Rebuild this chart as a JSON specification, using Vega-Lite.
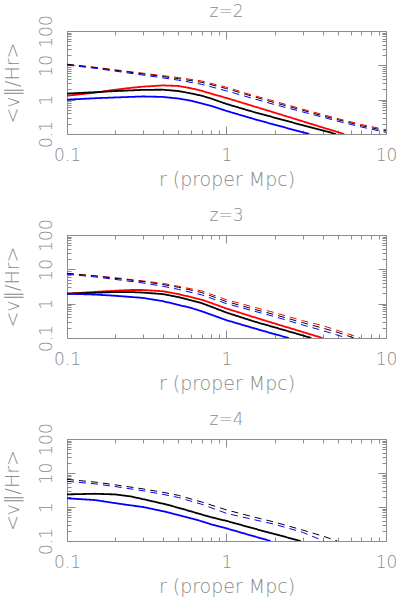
{
  "$schema": "https://vega.github.io/schema/vega-lite/v6.json",
  "padding": {"left": 2, "top": 2, "right": 0, "bottom": 0},
  "background": "white",
  "data": {"values": [
    {"z":2,"s":"red","t":"solid","r":0.1,"v":1.3},{"z":2,"s":"red","t":"solid","r":0.15,"v":1.6},{"z":2,"s":"red","t":"solid","r":0.2,"v":1.95},{"z":2,"s":"red","t":"solid","r":0.25,"v":2.2},{"z":2,"s":"red","t":"solid","r":0.3,"v":2.4},{"z":2,"s":"red","t":"solid","r":0.4,"v":2.6},{"z":2,"s":"red","t":"solid","r":0.5,"v":2.5},{"z":2,"s":"red","t":"solid","r":0.6,"v":2.15},{"z":2,"s":"red","t":"solid","r":0.7,"v":1.8},{"z":2,"s":"red","t":"solid","r":0.8,"v":1.5},{"z":2,"s":"red","t":"solid","r":1,"v":1.12},{"z":2,"s":"red","t":"solid","r":1.5,"v":0.63},{"z":2,"s":"red","t":"solid","r":2,"v":0.42},{"z":2,"s":"red","t":"solid","r":3,"v":0.235},{"z":2,"s":"red","t":"solid","r":4,"v":0.155},{"z":2,"s":"red","t":"solid","r":5.46,"v":0.1},
    {"z":2,"s":"black","t":"solid","r":0.1,"v":1.5},{"z":2,"s":"black","t":"solid","r":0.15,"v":1.65},{"z":2,"s":"black","t":"solid","r":0.2,"v":1.78},{"z":2,"s":"black","t":"solid","r":0.3,"v":1.93},{"z":2,"s":"black","t":"solid","r":0.4,"v":1.95},{"z":2,"s":"black","t":"solid","r":0.5,"v":1.78},{"z":2,"s":"black","t":"solid","r":0.6,"v":1.52},{"z":2,"s":"black","t":"solid","r":0.7,"v":1.3},{"z":2,"s":"black","t":"solid","r":0.8,"v":1.08},{"z":2,"s":"black","t":"solid","r":1,"v":0.75},{"z":2,"s":"black","t":"solid","r":1.5,"v":0.43},{"z":2,"s":"black","t":"solid","r":2,"v":0.3},{"z":2,"s":"black","t":"solid","r":3,"v":0.18},{"z":2,"s":"black","t":"solid","r":4,"v":0.127},{"z":2,"s":"black","t":"solid","r":4.85,"v":0.1},
    {"z":2,"s":"blue","t":"solid","r":0.1,"v":1.0},{"z":2,"s":"blue","t":"solid","r":0.15,"v":1.1},{"z":2,"s":"blue","t":"solid","r":0.2,"v":1.16},{"z":2,"s":"blue","t":"solid","r":0.3,"v":1.24},{"z":2,"s":"blue","t":"solid","r":0.4,"v":1.2},{"z":2,"s":"blue","t":"solid","r":0.5,"v":1.08},{"z":2,"s":"blue","t":"solid","r":0.6,"v":0.93},{"z":2,"s":"blue","t":"solid","r":0.7,"v":0.78},{"z":2,"s":"blue","t":"solid","r":0.8,"v":0.66},{"z":2,"s":"blue","t":"solid","r":1,"v":0.47},{"z":2,"s":"blue","t":"solid","r":1.5,"v":0.27},{"z":2,"s":"blue","t":"solid","r":2,"v":0.187},{"z":2,"s":"blue","t":"solid","r":3,"v":0.112},{"z":2,"s":"blue","t":"solid","r":3.3,"v":0.1},
    {"z":2,"s":"red","t":"dashed","r":0.1,"v":10.8},{"z":2,"s":"red","t":"dashed","r":0.15,"v":8.8},{"z":2,"s":"red","t":"dashed","r":0.2,"v":7.4},{"z":2,"s":"red","t":"dashed","r":0.3,"v":5.9},{"z":2,"s":"red","t":"dashed","r":0.4,"v":5.0},{"z":2,"s":"red","t":"dashed","r":0.5,"v":4.4},{"z":2,"s":"red","t":"dashed","r":0.7,"v":3.5},{"z":2,"s":"red","t":"dashed","r":1,"v":2.3},{"z":2,"s":"red","t":"dashed","r":1.5,"v":1.3},{"z":2,"s":"red","t":"dashed","r":2,"v":0.9},{"z":2,"s":"red","t":"dashed","r":3,"v":0.53},{"z":2,"s":"red","t":"dashed","r":4,"v":0.37},{"z":2,"s":"red","t":"dashed","r":5,"v":0.28},{"z":2,"s":"red","t":"dashed","r":7,"v":0.19},{"z":2,"s":"red","t":"dashed","r":10,"v":0.133},
    {"z":2,"s":"black","t":"dashed","r":0.1,"v":10.7},{"z":2,"s":"black","t":"dashed","r":0.15,"v":8.6},{"z":2,"s":"black","t":"dashed","r":0.2,"v":7.2},{"z":2,"s":"black","t":"dashed","r":0.3,"v":5.6},{"z":2,"s":"black","t":"dashed","r":0.4,"v":4.7},{"z":2,"s":"black","t":"dashed","r":0.5,"v":4.1},{"z":2,"s":"black","t":"dashed","r":0.7,"v":3.2},{"z":2,"s":"black","t":"dashed","r":1,"v":2.1},{"z":2,"s":"black","t":"dashed","r":1.5,"v":1.2},{"z":2,"s":"black","t":"dashed","r":2,"v":0.82},{"z":2,"s":"black","t":"dashed","r":3,"v":0.49},{"z":2,"s":"black","t":"dashed","r":4,"v":0.34},{"z":2,"s":"black","t":"dashed","r":5,"v":0.26},{"z":2,"s":"black","t":"dashed","r":7,"v":0.175},{"z":2,"s":"black","t":"dashed","r":10,"v":0.123},
    {"z":2,"s":"blue","t":"dashed","r":0.1,"v":10.2},{"z":2,"s":"blue","t":"dashed","r":0.15,"v":8.2},{"z":2,"s":"blue","t":"dashed","r":0.2,"v":6.8},{"z":2,"s":"blue","t":"dashed","r":0.3,"v":5.2},{"z":2,"s":"blue","t":"dashed","r":0.4,"v":4.3},{"z":2,"s":"blue","t":"dashed","r":0.5,"v":3.7},{"z":2,"s":"blue","t":"dashed","r":0.7,"v":2.8},{"z":2,"s":"blue","t":"dashed","r":1,"v":1.8},{"z":2,"s":"blue","t":"dashed","r":1.5,"v":1.05},{"z":2,"s":"blue","t":"dashed","r":2,"v":0.72},{"z":2,"s":"blue","t":"dashed","r":3,"v":0.44},{"z":2,"s":"blue","t":"dashed","r":4,"v":0.31},{"z":2,"s":"blue","t":"dashed","r":5,"v":0.235},{"z":2,"s":"blue","t":"dashed","r":7,"v":0.16},{"z":2,"s":"blue","t":"dashed","r":10,"v":0.112},

    {"z":3,"s":"red","t":"solid","r":0.1,"v":1.95},{"z":3,"s":"red","t":"solid","r":0.15,"v":2.2},{"z":3,"s":"red","t":"solid","r":0.2,"v":2.38},{"z":3,"s":"red","t":"solid","r":0.25,"v":2.5},{"z":3,"s":"red","t":"solid","r":0.3,"v":2.5},{"z":3,"s":"red","t":"solid","r":0.4,"v":2.3},{"z":3,"s":"red","t":"solid","r":0.5,"v":1.9},{"z":3,"s":"red","t":"solid","r":0.6,"v":1.55},{"z":3,"s":"red","t":"solid","r":0.7,"v":1.3},{"z":3,"s":"red","t":"solid","r":0.8,"v":1.05},{"z":3,"s":"red","t":"solid","r":1,"v":0.72},{"z":3,"s":"red","t":"solid","r":1.5,"v":0.4},{"z":3,"s":"red","t":"solid","r":2,"v":0.265},{"z":3,"s":"red","t":"solid","r":3,"v":0.15},{"z":3,"s":"red","t":"solid","r":4,"v":0.1},
    {"z":3,"s":"black","t":"solid","r":0.1,"v":1.95},{"z":3,"s":"black","t":"solid","r":0.15,"v":2.08},{"z":3,"s":"black","t":"solid","r":0.2,"v":2.18},{"z":3,"s":"black","t":"solid","r":0.25,"v":2.18},{"z":3,"s":"black","t":"solid","r":0.3,"v":2.1},{"z":3,"s":"black","t":"solid","r":0.4,"v":1.9},{"z":3,"s":"black","t":"solid","r":0.5,"v":1.55},{"z":3,"s":"black","t":"solid","r":0.6,"v":1.25},{"z":3,"s":"black","t":"solid","r":0.7,"v":1.03},{"z":3,"s":"black","t":"solid","r":0.8,"v":0.82},{"z":3,"s":"black","t":"solid","r":1,"v":0.55},{"z":3,"s":"black","t":"solid","r":1.5,"v":0.3},{"z":3,"s":"black","t":"solid","r":2,"v":0.205},{"z":3,"s":"black","t":"solid","r":3,"v":0.119},{"z":3,"s":"black","t":"solid","r":3.4,"v":0.1},
    {"z":3,"s":"blue","t":"solid","r":0.1,"v":1.95},{"z":3,"s":"blue","t":"solid","r":0.15,"v":1.84},{"z":3,"s":"blue","t":"solid","r":0.2,"v":1.7},{"z":3,"s":"blue","t":"solid","r":0.3,"v":1.47},{"z":3,"s":"blue","t":"solid","r":0.4,"v":1.18},{"z":3,"s":"blue","t":"solid","r":0.5,"v":0.92},{"z":3,"s":"blue","t":"solid","r":0.6,"v":0.75},{"z":3,"s":"blue","t":"solid","r":0.7,"v":0.6},{"z":3,"s":"blue","t":"solid","r":0.8,"v":0.48},{"z":3,"s":"blue","t":"solid","r":1,"v":0.33},{"z":3,"s":"blue","t":"solid","r":1.5,"v":0.19},{"z":3,"s":"blue","t":"solid","r":2,"v":0.13},{"z":3,"s":"blue","t":"solid","r":2.46,"v":0.1},
    {"z":3,"s":"red","t":"dashed","r":0.1,"v":7.6},{"z":3,"s":"red","t":"dashed","r":0.15,"v":6.5},{"z":3,"s":"red","t":"dashed","r":0.2,"v":5.7},{"z":3,"s":"red","t":"dashed","r":0.3,"v":4.6},{"z":3,"s":"red","t":"dashed","r":0.4,"v":3.9},{"z":3,"s":"red","t":"dashed","r":0.5,"v":3.2},{"z":3,"s":"red","t":"dashed","r":0.7,"v":2.35},{"z":3,"s":"red","t":"dashed","r":1,"v":1.3},{"z":3,"s":"red","t":"dashed","r":1.5,"v":0.78},{"z":3,"s":"red","t":"dashed","r":2,"v":0.55},{"z":3,"s":"red","t":"dashed","r":3,"v":0.32},{"z":3,"s":"red","t":"dashed","r":4,"v":0.23},{"z":3,"s":"red","t":"dashed","r":5,"v":0.165},{"z":3,"s":"red","t":"dashed","r":6.9,"v":0.1},
    {"z":3,"s":"black","t":"dashed","r":0.1,"v":7.6},{"z":3,"s":"black","t":"dashed","r":0.15,"v":6.4},{"z":3,"s":"black","t":"dashed","r":0.2,"v":5.5},{"z":3,"s":"black","t":"dashed","r":0.3,"v":4.4},{"z":3,"s":"black","t":"dashed","r":0.4,"v":3.6},{"z":3,"s":"black","t":"dashed","r":0.5,"v":3.0},{"z":3,"s":"black","t":"dashed","r":0.7,"v":2.1},{"z":3,"s":"black","t":"dashed","r":1,"v":1.15},{"z":3,"s":"black","t":"dashed","r":1.5,"v":0.68},{"z":3,"s":"black","t":"dashed","r":2,"v":0.48},{"z":3,"s":"black","t":"dashed","r":3,"v":0.28},{"z":3,"s":"black","t":"dashed","r":4,"v":0.195},{"z":3,"s":"black","t":"dashed","r":5,"v":0.145},{"z":3,"s":"black","t":"dashed","r":6.3,"v":0.1},
    {"z":3,"s":"blue","t":"dashed","r":0.1,"v":7.2},{"z":3,"s":"blue","t":"dashed","r":0.15,"v":6.0},{"z":3,"s":"blue","t":"dashed","r":0.2,"v":5.1},{"z":3,"s":"blue","t":"dashed","r":0.3,"v":4.0},{"z":3,"s":"blue","t":"dashed","r":0.4,"v":3.2},{"z":3,"s":"blue","t":"dashed","r":0.5,"v":2.6},{"z":3,"s":"blue","t":"dashed","r":0.7,"v":1.8},{"z":3,"s":"blue","t":"dashed","r":1,"v":1.0},{"z":3,"s":"blue","t":"dashed","r":1.5,"v":0.6},{"z":3,"s":"blue","t":"dashed","r":2,"v":0.42},{"z":3,"s":"blue","t":"dashed","r":3,"v":0.24},{"z":3,"s":"blue","t":"dashed","r":4,"v":0.165},{"z":3,"s":"blue","t":"dashed","r":5,"v":0.12},{"z":3,"s":"blue","t":"dashed","r":5.7,"v":0.1},

    {"z":4,"s":"black","t":"solid","r":0.1,"v":2.35},{"z":4,"s":"black","t":"solid","r":0.15,"v":2.45},{"z":4,"s":"black","t":"solid","r":0.2,"v":2.35},{"z":4,"s":"black","t":"solid","r":0.25,"v":2.05},{"z":4,"s":"black","t":"solid","r":0.3,"v":1.7},{"z":4,"s":"black","t":"solid","r":0.4,"v":1.25},{"z":4,"s":"black","t":"solid","r":0.5,"v":0.95},{"z":4,"s":"black","t":"solid","r":0.7,"v":0.6},{"z":4,"s":"black","t":"solid","r":0.8,"v":0.5},{"z":4,"s":"black","t":"solid","r":1,"v":0.39},{"z":4,"s":"black","t":"solid","r":1.5,"v":0.23},{"z":4,"s":"black","t":"solid","r":2,"v":0.16},{"z":4,"s":"black","t":"solid","r":2.92,"v":0.1},
    {"z":4,"s":"blue","t":"solid","r":0.1,"v":1.8},{"z":4,"s":"blue","t":"solid","r":0.15,"v":1.6},{"z":4,"s":"blue","t":"solid","r":0.2,"v":1.3},{"z":4,"s":"blue","t":"solid","r":0.25,"v":1.12},{"z":4,"s":"blue","t":"solid","r":0.3,"v":1.0},{"z":4,"s":"blue","t":"solid","r":0.4,"v":0.75},{"z":4,"s":"blue","t":"solid","r":0.5,"v":0.58},{"z":4,"s":"blue","t":"solid","r":0.7,"v":0.38},{"z":4,"s":"blue","t":"solid","r":0.8,"v":0.31},{"z":4,"s":"blue","t":"solid","r":1,"v":0.235},{"z":4,"s":"blue","t":"solid","r":1.5,"v":0.136},{"z":4,"s":"blue","t":"solid","r":1.89,"v":0.1},
    {"z":4,"s":"black","t":"dashed","r":0.1,"v":6.5},{"z":4,"s":"black","t":"dashed","r":0.15,"v":5.4},{"z":4,"s":"black","t":"dashed","r":0.2,"v":4.5},{"z":4,"s":"black","t":"dashed","r":0.3,"v":3.4},{"z":4,"s":"black","t":"dashed","r":0.4,"v":2.7},{"z":4,"s":"black","t":"dashed","r":0.5,"v":2.2},{"z":4,"s":"black","t":"dashed","r":0.7,"v":1.4},{"z":4,"s":"black","t":"dashed","r":1,"v":0.82},{"z":4,"s":"black","t":"dashed","r":1.5,"v":0.5},{"z":4,"s":"black","t":"dashed","r":2,"v":0.36},{"z":4,"s":"black","t":"dashed","r":3,"v":0.21},{"z":4,"s":"black","t":"dashed","r":4,"v":0.14},{"z":4,"s":"black","t":"dashed","r":4.95,"v":0.1},
    {"z":4,"s":"blue","t":"dashed","r":0.1,"v":5.7},{"z":4,"s":"blue","t":"dashed","r":0.15,"v":4.8},{"z":4,"s":"blue","t":"dashed","r":0.2,"v":4.0},{"z":4,"s":"blue","t":"dashed","r":0.3,"v":3.0},{"z":4,"s":"blue","t":"dashed","r":0.4,"v":2.35},{"z":4,"s":"blue","t":"dashed","r":0.5,"v":1.9},{"z":4,"s":"blue","t":"dashed","r":0.7,"v":1.2},{"z":4,"s":"blue","t":"dashed","r":1,"v":0.65},{"z":4,"s":"blue","t":"dashed","r":1.5,"v":0.42},{"z":4,"s":"blue","t":"dashed","r":2,"v":0.31},{"z":4,"s":"blue","t":"dashed","r":3,"v":0.18},{"z":4,"s":"blue","t":"dashed","r":4.08,"v":0.1}
  ]},
  "bounds": "flush",
  "spacing": 101,
  "vconcat": [
    {
      "title": {"text": "z=2", "offset": -6},
      "width": 319, "height": 103,
      "transform": [{"filter": "datum.z == 2"}],
      "layer": [
        {"mark": {"type": "line", "clip": true},
         "encoding": {
           "x": {"field": "r", "type": "quantitative", "scale": {"type": "log", "domain": [0.1, 10], "nice": false}, "axis": {"orient": "bottom", "values": [0.1, 1, 10], "format": "~g", "tickSize": -8, "labelPadding": 21, "title": "r  (proper Mpc)", "titlePadding": 7}},
           "y": {"field": "v", "type": "quantitative", "scale": {"type": "log", "domain": [0.1, 100], "nice": false}, "axis": {"orient": "left", "values": [0.1, 1, 10, 100], "format": "~g", "tickSize": -8, "labelAngle": -90, "labelAlign": "center", "labelBaseline": "bottom", "labelPadding": 20, "title": "<v‖/Hr>", "titlePadding": 15}},
           "color": {"field": "s", "type": "nominal", "scale": {"domain": ["red", "black", "blue"], "range": ["#ff0000", "#000000", "#0000ff"]}, "legend": null},
           "strokeDash": {"field": "t", "type": "nominal", "scale": {"domain": ["solid", "dashed"], "range": [[1, 0], [7, 5]]}, "legend": null},
           "strokeWidth": {"field": "t", "type": "nominal", "scale": {"domain": ["solid", "dashed"], "range": [1.8, 1]}, "legend": null}
         }},
        {"mark": {"type": "line", "opacity": 0},
         "encoding": {
           "x": {"field": "r", "type": "quantitative", "scale": {"type": "log", "domain": [0.1, 10], "nice": false}, "axis": {"orient": "bottom", "values": [0.2,0.3,0.4,0.5,0.6,0.7,0.8,0.9,2,3,4,5,6,7,8,9], "tickSize": -4, "labels": false, "title": null}},
           "y": {"field": "v", "type": "quantitative", "scale": {"type": "log", "domain": [0.1, 100], "nice": false}, "axis": {"orient": "left", "values": [0.2,0.3,0.4,0.5,0.6,0.7,0.8,0.9,2,3,4,5,6,7,8,9,20,30,40,50,60,70,80,90], "tickSize": -4, "labels": false, "title": null}}
         }},
        {"mark": {"type": "line", "opacity": 0},
         "encoding": {
           "x": {"field": "r", "type": "quantitative", "scale": {"type": "log", "domain": [0.1, 10], "nice": false}, "axis": {"orient": "top", "values": [0.1, 1, 10], "tickSize": -8, "labels": false, "title": null}},
           "y": {"field": "v", "type": "quantitative", "scale": {"type": "log", "domain": [0.1, 100], "nice": false}, "axis": {"orient": "right", "values": [0.1, 1, 10, 100], "tickSize": -8, "labels": false, "title": null}}
         }},
        {"mark": {"type": "line", "opacity": 0},
         "encoding": {
           "x": {"field": "r", "type": "quantitative", "scale": {"type": "log", "domain": [0.1, 10], "nice": false}, "axis": {"orient": "top", "values": [0.2,0.3,0.4,0.5,0.6,0.7,0.8,0.9,2,3,4,5,6,7,8,9], "tickSize": -4, "labels": false, "title": null}},
           "y": {"field": "v", "type": "quantitative", "scale": {"type": "log", "domain": [0.1, 100], "nice": false}, "axis": {"orient": "right", "values": [0.2,0.3,0.4,0.5,0.6,0.7,0.8,0.9,2,3,4,5,6,7,8,9,20,30,40,50,60,70,80,90], "tickSize": -4, "labels": false, "title": null}}
         }}
      ],
      "resolve": {"axis": {"x": "independent", "y": "independent"}}
    },
    {
      "title": {"text": "z=3", "offset": -6},
      "width": 319, "height": 103,
      "transform": [{"filter": "datum.z == 3"}],
      "layer": [
        {"mark": {"type": "line", "clip": true},
         "encoding": {
           "x": {"field": "r", "type": "quantitative", "scale": {"type": "log", "domain": [0.1, 10], "nice": false}, "axis": {"orient": "bottom", "values": [0.1, 1, 10], "format": "~g", "tickSize": -8, "labelPadding": 21, "title": "r  (proper Mpc)", "titlePadding": 7}},
           "y": {"field": "v", "type": "quantitative", "scale": {"type": "log", "domain": [0.1, 100], "nice": false}, "axis": {"orient": "left", "values": [0.1, 1, 10, 100], "format": "~g", "tickSize": -8, "labelAngle": -90, "labelAlign": "center", "labelBaseline": "bottom", "labelPadding": 20, "title": "<v‖/Hr>", "titlePadding": 15}},
           "color": {"field": "s", "type": "nominal", "scale": {"domain": ["red", "black", "blue"], "range": ["#ff0000", "#000000", "#0000ff"]}, "legend": null},
           "strokeDash": {"field": "t", "type": "nominal", "scale": {"domain": ["solid", "dashed"], "range": [[1, 0], [7, 5]]}, "legend": null},
           "strokeWidth": {"field": "t", "type": "nominal", "scale": {"domain": ["solid", "dashed"], "range": [1.8, 1]}, "legend": null}
         }},
        {"mark": {"type": "line", "opacity": 0},
         "encoding": {
           "x": {"field": "r", "type": "quantitative", "scale": {"type": "log", "domain": [0.1, 10], "nice": false}, "axis": {"orient": "bottom", "values": [0.2,0.3,0.4,0.5,0.6,0.7,0.8,0.9,2,3,4,5,6,7,8,9], "tickSize": -4, "labels": false, "title": null}},
           "y": {"field": "v", "type": "quantitative", "scale": {"type": "log", "domain": [0.1, 100], "nice": false}, "axis": {"orient": "left", "values": [0.2,0.3,0.4,0.5,0.6,0.7,0.8,0.9,2,3,4,5,6,7,8,9,20,30,40,50,60,70,80,90], "tickSize": -4, "labels": false, "title": null}}
         }},
        {"mark": {"type": "line", "opacity": 0},
         "encoding": {
           "x": {"field": "r", "type": "quantitative", "scale": {"type": "log", "domain": [0.1, 10], "nice": false}, "axis": {"orient": "top", "values": [0.1, 1, 10], "tickSize": -8, "labels": false, "title": null}},
           "y": {"field": "v", "type": "quantitative", "scale": {"type": "log", "domain": [0.1, 100], "nice": false}, "axis": {"orient": "right", "values": [0.1, 1, 10, 100], "tickSize": -8, "labels": false, "title": null}}
         }},
        {"mark": {"type": "line", "opacity": 0},
         "encoding": {
           "x": {"field": "r", "type": "quantitative", "scale": {"type": "log", "domain": [0.1, 10], "nice": false}, "axis": {"orient": "top", "values": [0.2,0.3,0.4,0.5,0.6,0.7,0.8,0.9,2,3,4,5,6,7,8,9], "tickSize": -4, "labels": false, "title": null}},
           "y": {"field": "v", "type": "quantitative", "scale": {"type": "log", "domain": [0.1, 100], "nice": false}, "axis": {"orient": "right", "values": [0.2,0.3,0.4,0.5,0.6,0.7,0.8,0.9,2,3,4,5,6,7,8,9,20,30,40,50,60,70,80,90], "tickSize": -4, "labels": false, "title": null}}
         }}
      ],
      "resolve": {"axis": {"x": "independent", "y": "independent"}}
    },
    {
      "title": {"text": "z=4", "offset": -6},
      "width": 319, "height": 102,
      "transform": [{"filter": "datum.z == 4"}],
      "layer": [
        {"mark": {"type": "line", "clip": true},
         "encoding": {
           "x": {"field": "r", "type": "quantitative", "scale": {"type": "log", "domain": [0.1, 10], "nice": false}, "axis": {"orient": "bottom", "values": [0.1, 1, 10], "format": "~g", "tickSize": -8, "labelPadding": 21, "title": "r  (proper Mpc)", "titlePadding": 7}},
           "y": {"field": "v", "type": "quantitative", "scale": {"type": "log", "domain": [0.1, 100], "nice": false}, "axis": {"orient": "left", "values": [0.1, 1, 10, 100], "format": "~g", "tickSize": -8, "labelAngle": -90, "labelAlign": "center", "labelBaseline": "bottom", "labelPadding": 20, "title": "<v‖/Hr>", "titlePadding": 15}},
           "color": {"field": "s", "type": "nominal", "scale": {"domain": ["red", "black", "blue"], "range": ["#ff0000", "#000000", "#0000ff"]}, "legend": null},
           "strokeDash": {"field": "t", "type": "nominal", "scale": {"domain": ["solid", "dashed"], "range": [[1, 0], [7, 5]]}, "legend": null},
           "strokeWidth": {"field": "t", "type": "nominal", "scale": {"domain": ["solid", "dashed"], "range": [1.8, 1]}, "legend": null}
         }},
        {"mark": {"type": "line", "opacity": 0},
         "encoding": {
           "x": {"field": "r", "type": "quantitative", "scale": {"type": "log", "domain": [0.1, 10], "nice": false}, "axis": {"orient": "bottom", "values": [0.2,0.3,0.4,0.5,0.6,0.7,0.8,0.9,2,3,4,5,6,7,8,9], "tickSize": -4, "labels": false, "title": null}},
           "y": {"field": "v", "type": "quantitative", "scale": {"type": "log", "domain": [0.1, 100], "nice": false}, "axis": {"orient": "left", "values": [0.2,0.3,0.4,0.5,0.6,0.7,0.8,0.9,2,3,4,5,6,7,8,9,20,30,40,50,60,70,80,90], "tickSize": -4, "labels": false, "title": null}}
         }},
        {"mark": {"type": "line", "opacity": 0},
         "encoding": {
           "x": {"field": "r", "type": "quantitative", "scale": {"type": "log", "domain": [0.1, 10], "nice": false}, "axis": {"orient": "top", "values": [0.1, 1, 10], "tickSize": -8, "labels": false, "title": null}},
           "y": {"field": "v", "type": "quantitative", "scale": {"type": "log", "domain": [0.1, 100], "nice": false}, "axis": {"orient": "right", "values": [0.1, 1, 10, 100], "tickSize": -8, "labels": false, "title": null}}
         }},
        {"mark": {"type": "line", "opacity": 0},
         "encoding": {
           "x": {"field": "r", "type": "quantitative", "scale": {"type": "log", "domain": [0.1, 10], "nice": false}, "axis": {"orient": "top", "values": [0.2,0.3,0.4,0.5,0.6,0.7,0.8,0.9,2,3,4,5,6,7,8,9], "tickSize": -4, "labels": false, "title": null}},
           "y": {"field": "v", "type": "quantitative", "scale": {"type": "log", "domain": [0.1, 100], "nice": false}, "axis": {"orient": "right", "values": [0.2,0.3,0.4,0.5,0.6,0.7,0.8,0.9,2,3,4,5,6,7,8,9,20,30,40,50,60,70,80,90], "tickSize": -4, "labels": false, "title": null}}
         }}
      ],
      "resolve": {"axis": {"x": "independent", "y": "independent"}}
    }
  ],
  "config": {
    "view": {"stroke": "#8c8c8c", "strokeWidth": 1},
    "axis": {"grid": false, "domain": false, "labelFont": "DejaVu Sans", "titleFont": "DejaVu Sans", "labelFontSize": 17, "titleFontSize": 19, "labelFontWeight": 200, "titleFontWeight": 200, "labelColor": "#8a8a8a", "titleColor": "#8a8a8a", "tickColor": "#8c8c8c", "labelFlush": false, "labelOverlap": false},
    "title": {"font": "DejaVu Sans", "fontSize": 17, "fontWeight": 200, "color": "#8a8a8a"}
  }
}
